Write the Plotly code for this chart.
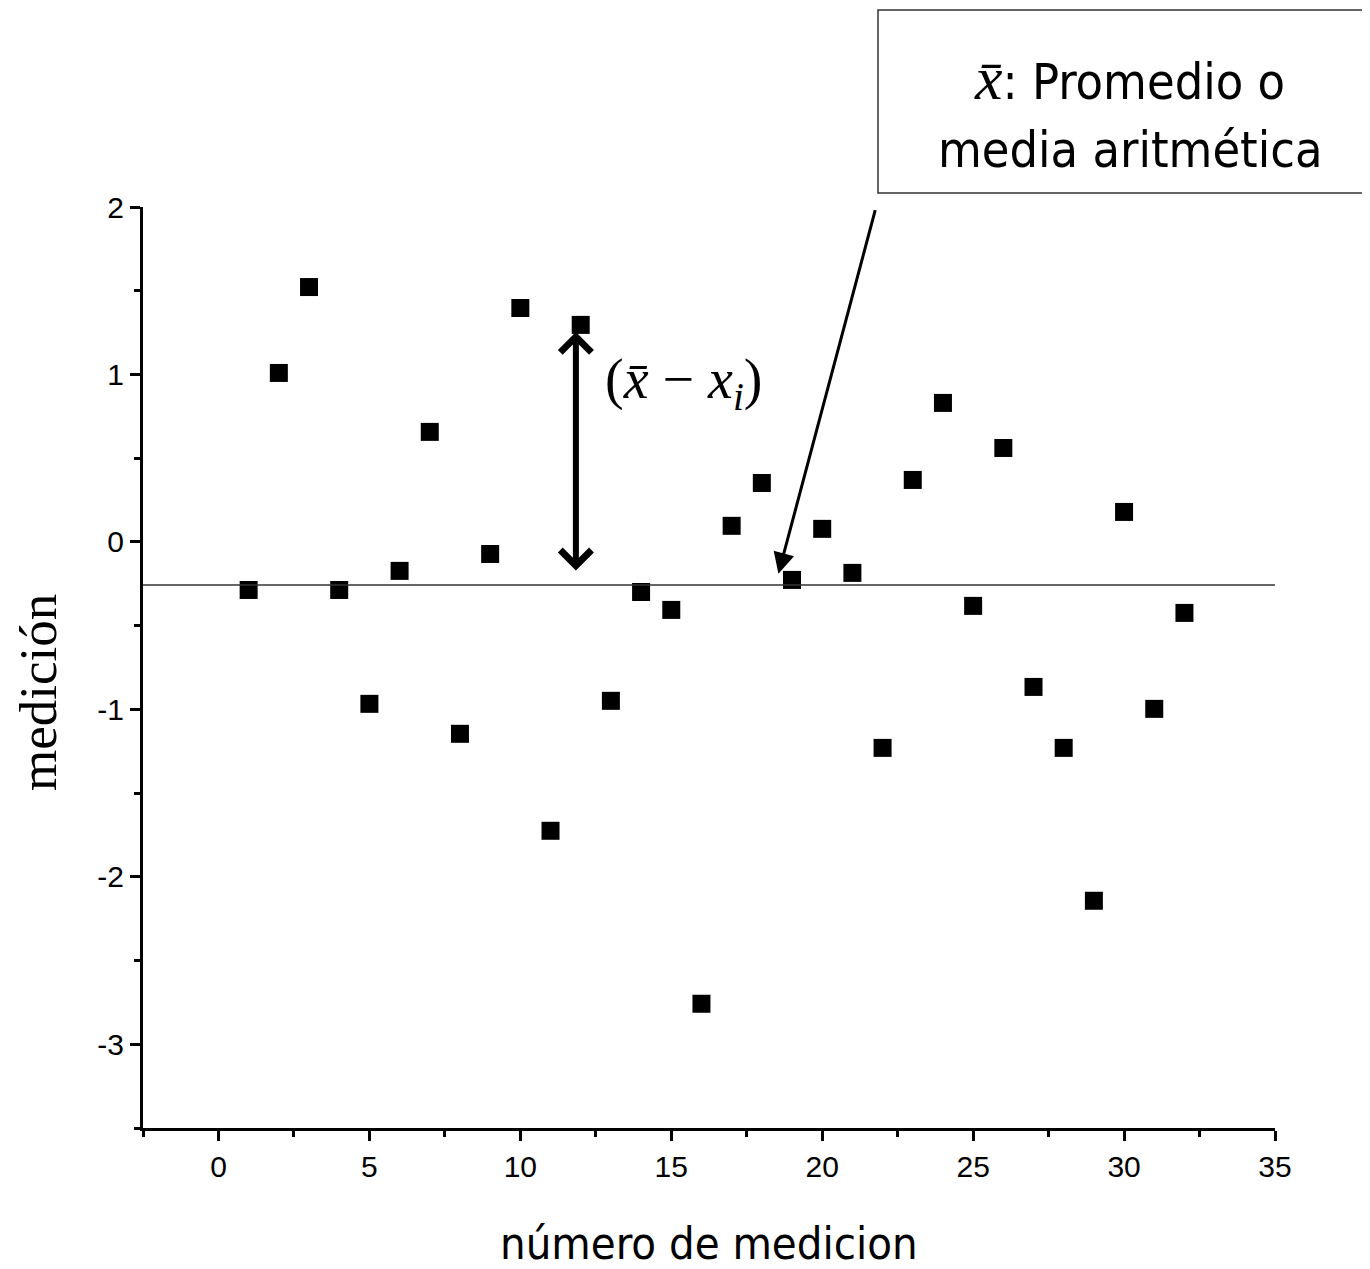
import plotly.graph_objects as go

# Data
medicion_n = list(range(1, 33))
medicion_val = [-0.287, 1.009, 1.522, -0.287, -0.967, -0.173, 0.657, -1.146,
                -0.072, 1.397, -1.725, 1.296, -0.949, -0.299, -0.406, -2.758,
                0.096, 0.352, -0.227, 0.078, -0.185, -1.230, 0.370, 0.830,
                -0.382, 0.561, -0.866, -1.230, -2.143, 0.179, -0.997, -0.424]
promedio = -0.257

x_ticks = [0, 5, 10, 15, 20, 25, 30, 35]
y_ticks = [-3, -2, -1, 0, 1, 2]

BLACK = "#000000"
SANS = "DejaVu Sans Condensed, DejaVu Sans"
SERIF = "Liberation Serif, DejaVu Serif"

# page offset (body margin) and plot-area pixel frame
OFF = 8
PL, PR, PT, PB = 143, 1275, 207, 1128


def px(xp):
    return (xp - PL) / (PR - PL)


def py(yp):
    return (PB - yp) / (PB - PT)


fig = go.Figure()
fig.add_trace(go.Scatter(
    x=medicion_n, y=medicion_val, mode="markers",
    marker=dict(symbol="square", size=18, color=BLACK, line=dict(width=0)),
    showlegend=False, hoverinfo="x+y"))

# mean line
fig.add_shape(type="line", xref="paper", yref="y", x0=0, x1=1,
              y0=promedio, y1=promedio, line=dict(color="#333333", width=1.6))

# double-headed arrow (x̄ - x_i)
fig.add_annotation(x=11.84, y=1.254, ax=11.84, ay=-0.179, xref="x", yref="y",
                   axref="x", ayref="y", showarrow=True, arrowhead=4,
                   startarrowhead=4, arrowside="end+start", arrowsize=1.0,
                   startarrowsize=1.0, arrowwidth=6, arrowcolor=BLACK, text="")
fig.add_annotation(x=12.75, y=0.95, xref="x", yref="y", xanchor="left",
                   yanchor="middle", showarrow=False,
                   text="(<i>x̄</i> − <i>x<sub>i</sub></i>)",
                   font=dict(family=SERIF, size=56, color=BLACK))

# arrow from box to mean line
fig.add_annotation(x=18.55, y=-0.19, ax=21.77, ay=1.99, xref="x", yref="y",
                   axref="x", ayref="y", showarrow=True, arrowhead=2,
                   arrowsize=1.4, arrowwidth=3, arrowcolor=BLACK, text="")

# text box
fig.add_shape(type="rect", xref="paper", yref="paper",
              x0=px(878), x1=1.2, y0=py(193), y1=py(10),
              line=dict(color="#333333", width=1.5), fillcolor="white")
fig.add_annotation(x=px(1129), y=py(78), xref="paper", yref="paper",
                   xanchor="center", yanchor="middle", showarrow=False,
                   text="<span style='font-family:Liberation Serif;font-size:62px'><i>x̄</i></span>: Promedio o",
                   font=dict(family=SANS, size=50, color=BLACK))
fig.add_annotation(x=px(1130), y=py(150), xref="paper", yref="paper",
                   xanchor="center", yanchor="middle", showarrow=False,
                   text="media aritmética",
                   font=dict(family=SANS, size=50, color=BLACK))

# axis titles
fig.add_annotation(x=px(709), y=py(1243), xref="paper", yref="paper",
                   xanchor="center", yanchor="middle", showarrow=False,
                   text="número de medicion",
                   font=dict(family=SANS, size=45, color=BLACK))
fig.add_annotation(x=px(38), y=py(692), xref="paper", yref="paper",
                   xanchor="center", yanchor="middle", showarrow=False,
                   text="medición", textangle=-90,
                   font=dict(family=SERIF, size=53, color=BLACK))

axis_common = dict(showgrid=False, zeroline=False, showline=True,
                   linecolor=BLACK, linewidth=3, ticks="outside",
                   tickwidth=3, ticklen=10, tickcolor=BLACK,
                   tickfont=dict(family="Liberation Sans, Arial", size=30,
                                 color=BLACK))

fig.update_xaxes(range=[-2.5, 35], tickvals=x_ticks,
                 ticktext=[str(v) for v in x_ticks], **axis_common,
                 minor=dict(ticks="outside", ticklen=6, tickwidth=3,
                            tickcolor=BLACK, tick0=-2.5, dtick=2.5))
fig.update_yaxes(range=[-3.5, 2], tickvals=y_ticks,
                 ticktext=[str(v) for v in y_ticks], **axis_common,
                 minor=dict(ticks="outside", ticklen=6, tickwidth=3,
                            tickcolor=BLACK, tick0=-3.5, dtick=0.5))

W, H = 1370, 1269
fig.update_layout(width=W, height=H, plot_bgcolor="white",
                  paper_bgcolor="white",
                  margin=dict(l=PL - OFF, r=W + OFF - PR, t=PT - OFF,
                              b=H + OFF - PB))

fig.write_html("out.html")
